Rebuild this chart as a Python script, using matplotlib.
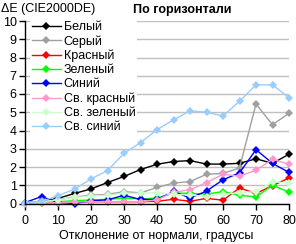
import matplotlib
matplotlib.use("Agg")
import matplotlib.pyplot as plt

plt.rcParams['font.family'] = ['Liberation Sans', 'DejaVu Sans']

angles = [0, 5, 10, 15, 20, 25, 30, 35, 40, 45, 50, 55, 60, 65, 70, 75, 80]
names = ["Белый", "Серый", "Красный", "Зеленый", "Синий", "Св. красный", "Св. зеленый", "Св. синий"]
white = [0.05, 0.12, 0.28, 0.55, 0.8, 1.15, 1.48, 1.86, 2.15, 2.3, 2.35, 2.16, 2.16, 2.2, 2.45, 2.2, 2.7]
gray = [0.05, 0.1, 0.2, 0.36, 0.45, 0.5, 0.65, 0.58, 0.88, 1.12, 1.2, 1.6, 1.65, 1.95, 5.45, 4.32, 4.94]
red = [0.02, 0.03, 0.05, 0.08, 0.1, 0.1, 0.1, 0.1, 0.12, 0.23, 0.12, 0.28, 0.18, 0.85, 0.55, 0.98, 1.4]
green = [0.02, 0.05, 0.1, 0.15, 0.2, 0.22, 0.3, 0.25, 0.3, 0.58, 0.55, 0.52, 0.65, 0.45, 0.36, 1.0, 0.62]
blue = [0.05, 0.38, 0.06, 0.0, 0.15, 0.2, 0.45, 0.22, 0.22, 0.66, 0.3, 0.68, 1.3, 1.68, 2.95, 2.2, 1.7]
pink = [0.0, 0.02, 0.05, 0.08, 0.1, 0.1, 0.1, 0.1, 0.2, 0.62, 0.75, 1.15, 1.6, 1.5, 1.82, 2.42, 2.15]
lgreen = [0.05, 0.1, 0.2, 0.33, 0.4, 0.45, 0.55, 0.56, 0.6, 0.5, 0.46, 0.38, 0.5, 0.6, 0.65, 1.2, 1.12]
lblue = [0.05, 0.12, 0.43, 0.78, 1.35, 1.8, 2.75, 3.33, 4.05, 4.58, 5.08, 5.0, 4.8, 5.6, 6.5, 6.5, 5.8]
yticks = [0, 1, 2, 3, 4, 5, 6, 7, 8, 9, 10]
xticks = [0, 10, 20, 30, 40, 50, 60, 70, 80]

series = [white, gray, red, green, blue, pink, lgreen, lblue]
colors = ["#000000", "#a0a0a0", "#ff0000", "#00ff00", "#0000ff", "#ff99cc", "#ccffcc", "#99ccff"]

fig = plt.figure(figsize=(2.96, 2.44), dpi=100)
ax = fig.add_axes([25/296, 1-203.5/244, 264/296, 182.5/244])

for vals, c, n in zip(series, colors, names):
    ax.plot(angles, vals, color=c, lw=1.0, marker='D', markersize=3.6,
            markeredgewidth=0, label=n, clip_on=False)

ax.set_xlim(0, 80)
ax.set_ylim(0, 10)
ax.set_xticks(xticks)
ax.set_yticks(yticks)
ax.yaxis.grid(True, color='#c0c0c0', lw=1.0)
ax.set_axisbelow(True)
for s in ['top', 'right']:
    ax.spines[s].set_visible(False)
ax.spines['left'].set_linewidth(1.0)
ax.spines['bottom'].set_linewidth(1.0)
ax.tick_params(axis='both', labelsize=9, length=4, width=1, direction='out', pad=2)
ax.tick_params(axis='x', pad=4)

leg = ax.legend(loc='upper left', bbox_to_anchor=(30/296, 1-19/244),
                bbox_transform=fig.transFigure, fontsize=9, frameon=True,
                handlelength=2.3, handletextpad=0.25, labelspacing=0.17,
                borderpad=0.15, borderaxespad=0)
leg.get_frame().set_facecolor('white')
leg.get_frame().set_edgecolor('none')
leg.get_frame().set_alpha(1)

fig.text(1/296, 1-9/244, "ΔE (CIE2000DE)", fontsize=9, va='center', ha='left')
fig.text(182/296, 1-10/244, "По горизонтали", fontsize=9, fontweight='bold', va='center', ha='center')
fig.text(156/296, 1-236/244, "Отклонение от нормали, градусы", fontsize=9, va='center', ha='center')

fig.savefig("out.png", dpi=100)
